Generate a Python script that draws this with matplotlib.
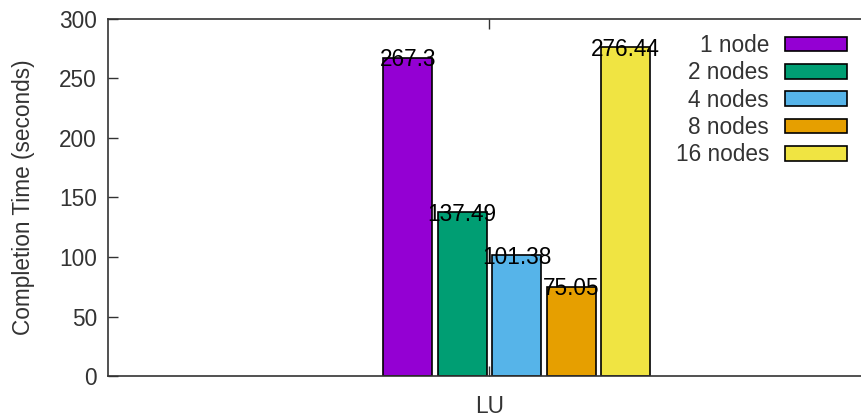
import matplotlib
matplotlib.use("Agg")
import matplotlib.pyplot as plt
import numpy as np
from matplotlib.transforms import offset_copy

categories = ["LU"]
series_labels = ["1 node", "2 nodes", "4 nodes", "8 nodes", "16 nodes"]
values = [267.3, 137.49, 101.38, 75.05, 276.44]
value_texts = ["267.3", "137.49", "101.38", "75.05", "276.44"]
colors = ["#9400D3", "#009E73", "#56B4E9", "#E69F00", "#F0E442"]
yticks = [0, 50, 100, 150, 200, 250, 300]

plt.rcParams['font.family'] = ['Liberation Sans', 'DejaVu Sans']
FS = 16.3

fig = plt.figure(figsize=(8.62, 4.17), dpi=100)
ax = fig.add_axes([108/862, 1-376/417, (871-108)/862, (376-19)/417])

x = np.arange(len(values))
txt_trans = offset_copy(ax.transData, fig=fig, x=0, y=-2, units='dots')
for i, (v, c, lab, t) in enumerate(zip(values, colors, series_labels, value_texts)):
    ax.bar(x[i], v, width=0.9, color=c, edgecolor='black', linewidth=1.2, label=lab, zorder=2)
    ax.text(x[i], v, t, ha='center', va='center', fontsize=FS, color='black', zorder=3,
            transform=txt_trans)

ax.set_xlim(-5.5, 8.5)
ax.set_ylim(0, 300)
ax.set_yticks(yticks)
ax.set_yticklabels([str(t) for t in yticks])
ax.set_xticks([1.5])
ax.set_xticklabels(categories)
ax.tick_params(direction='in', length=7, width=1.0, color='#333333', labelsize=FS,
               labelcolor='#333333', top=True, right=True)
ax.tick_params(axis='y', pad=8)
ax.tick_params(axis='x', pad=14)
for s in ax.spines.values():
    s.set_linewidth(1.2)
    s.set_color('#333333')

ax.set_ylabel('Completion Time (seconds)', fontsize=FS, color='#333333', labelpad=17)

leg = ax.legend(loc='upper right', bbox_to_anchor=(847/862, 1-34/417), bbox_transform=fig.transFigure,
                frameon=False, markerfirst=False, fontsize=FS, handlelength=2.75,
                handleheight=0.62, handletextpad=0.7, labelspacing=0.19, borderpad=0, borderaxespad=0)
for txt in leg.get_texts():
    txt.set_color('#333333')

fig.savefig('out.png', dpi=100)
